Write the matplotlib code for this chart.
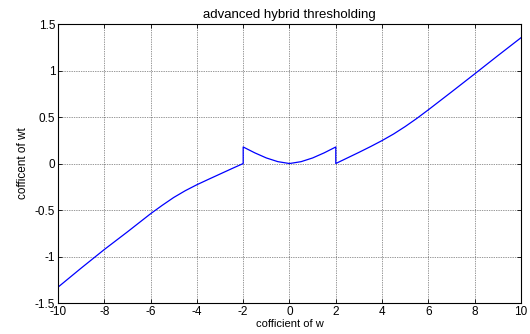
import matplotlib
matplotlib.use("Agg")
import matplotlib.pyplot as plt

plt.rcParams['font.family'] = ['Liberation Sans', 'DejaVu Sans']

# Left branch (w <= -2)
w_left = [-10, -9, -8, -7, -6, -5.5, -5, -4.5, -4, -3.5, -3, -2.5, -2]
wt_left = [-1.33, -1.125, -0.925, -0.735, -0.54, -0.45, -0.365, -0.292, -0.228,
           -0.17, -0.113, -0.056, 0.0]
# Middle region (-2 <= w <= 2)
w_mid = [-2, -1.5, -1, -0.5, 0, 0.5, 1, 1.5, 2]
wt_mid = [0.178, 0.115, 0.06, 0.02, 0.0, 0.02, 0.06, 0.115, 0.178]
# Right branch (w >= 2)
w_right = [2, 2.5, 3, 3.5, 4, 4.5, 5, 5.5, 6, 7, 8, 9, 10]
wt_right = [0.0, 0.06, 0.12, 0.182, 0.247, 0.318, 0.398, 0.485, 0.578, 0.77,
            0.964, 1.16, 1.353]

x_ticks = [-10, -8, -6, -4, -2, 0, 2, 4, 6, 8, 10]
y_ticks = [-1.5, -1, -0.5, 0, 0.5, 1, 1.5]
y_tick_labels = ['-1.5', '-1', '-0.5', '0', '0.5', '1', '1.5']

fig = plt.figure(figsize=(5.30, 3.34), dpi=100)
ax = fig.add_axes([0.1094, 0.0928, 0.8736, 0.8352])

xs = w_left + w_mid + w_right
ys = wt_left + wt_mid + wt_right
ax.plot(xs, ys, color=(0, 0, 1), lw=0.9)

ax.set_xlim(-10, 10)
ax.set_ylim(-1.5, 1.5)
ax.set_xticks(x_ticks)
ax.set_xticklabels([str(t) for t in x_ticks])
ax.set_yticks(y_ticks)
ax.set_yticklabels(y_tick_labels)
ax.grid(True, color='#333333', linestyle=(0, (1, 1.5)), linewidth=0.5)
ax.tick_params(direction='in', top=True, right=True, labelsize=8.5, length=3, width=0.6, pad=2)
for s in ax.spines.values():
    s.set_linewidth(0.8)

ax.set_title('advanced hybrid thresholding', fontsize=9.5, pad=4)
ax.set_xlabel('cofficient of w', fontsize=8, labelpad=1)
ax.set_ylabel('cofficent of wt', fontsize=8.5, labelpad=4,
              family=['Liberation Sans Narrow', 'Liberation Sans', 'DejaVu Sans'])

fig.savefig('out.png', dpi=100)
